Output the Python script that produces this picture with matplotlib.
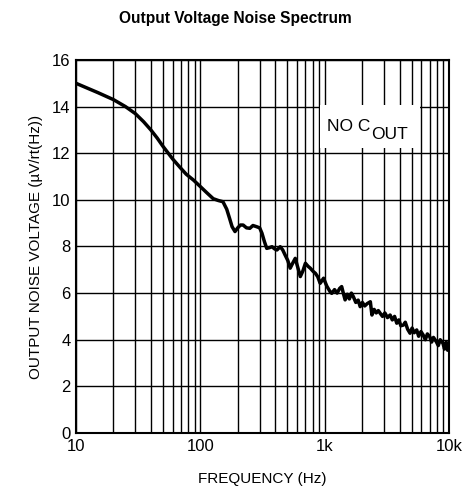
import matplotlib.pyplot as plt
from matplotlib.patches import Rectangle
from matplotlib.ticker import LogLocator, FixedLocator, NullFormatter

plt.rcParams['font.family'] = ['Liberation Sans', 'DejaVu Sans']

# frequency (Hz) and output noise (uV/rtHz)
freq = [10, 15, 20, 25, 30, 35, 40, 45, 50, 60, 69, 77, 88, 100, 113, 127,
        140, 152, 163, 172, 180, 190, 200, 210, 221, 235, 250, 265, 283, 300,
        313, 328, 342, 360, 377, 395, 413, 439, 460, 480, 505, 528, 555, 580,
        608, 637, 668, 700, 735, 766, 812, 842, 880, 920, 980, 1040, 1106,
        1140, 1200, 1260, 1320, 1370, 1420, 1460, 1520, 1580, 1640, 1700,
        1780, 1860, 1930, 2010, 2100, 2200, 2330, 2400, 2500, 2600, 2700,
        2800, 2920, 3050, 3200, 3360, 3500, 3650, 3800, 3950, 4100, 4300,
        4450, 4650, 4860, 5050, 5250, 5500, 5700, 5950, 6200, 6450, 6700,
        7000, 7250, 7500, 7900, 8200, 8500, 8940, 9200, 9500, 9750, 10000]
noise = [15.0, 14.6, 14.3, 14.0, 13.7, 13.35, 13.0, 12.65, 12.3, 11.75, 11.38,
         11.1, 10.85, 10.57, 10.3, 10.05, 9.97, 9.92, 9.6, 9.2, 8.85, 8.64,
         8.8, 8.92, 8.92, 8.8, 8.78, 8.9, 8.85, 8.8, 8.57, 8.2, 7.92, 7.95,
         7.99, 7.9, 7.85, 7.99, 7.85, 7.64, 7.4, 7.07, 7.3, 7.49, 7.1, 6.71,
         6.95, 7.28, 7.15, 7.07, 6.92, 6.85, 6.7, 6.42, 6.64, 6.3, 6.06, 5.99,
         6.15, 6.0, 6.2, 6.28, 5.95, 5.71, 5.95, 5.75, 6.0, 5.85, 5.6, 5.7,
         5.42, 5.6, 5.45, 5.55, 5.63, 5.06, 5.3, 5.15, 5.25, 5.13, 5.0, 5.15,
         4.95, 5.06, 4.85, 5.0, 4.71, 4.85, 4.6, 4.63, 4.75, 4.45, 4.28, 4.5,
         4.3, 4.42, 4.15, 4.35, 4.2, 4.0, 4.25, 4.13, 3.9, 4.1, 3.92, 3.75,
         4.0, 3.85, 3.6, 3.9, 3.55, 3.63]

fig = plt.figure(figsize=(4.68, 4.95), dpi=100)
ax = fig.add_axes([0.1624, 0.1253, 0.797, 0.7535])

ax.plot(freq, noise, color='black', lw=2.5, solid_joinstyle='round', zorder=3)

ax.set_xscale('log')
ax.set_xlim(10, 10000)
ax.set_ylim(0, 16)
ax.xaxis.set_major_locator(FixedLocator([10, 100, 1000, 10000]))
ax.xaxis.set_minor_locator(LogLocator(base=10, subs=range(2, 10)))
ax.xaxis.set_minor_formatter(NullFormatter())
ax.set_xticks([10, 100, 1000, 10000])
ax.set_xticklabels(['10', '100', '1k', '10k'])
ax.set_yticks(range(0, 17, 2))

ax.grid(which='both', axis='x', color='black', lw=1.0)
ax.grid(which='major', axis='y', color='black', lw=1.0)
ax.tick_params(which='both', length=0, labelsize=12, pad=4)
for s in ax.spines.values():
    s.set_linewidth(1.5)

ax.set_xlabel('FREQUENCY (Hz)', fontsize=11, labelpad=13)
ax.set_ylabel('OUTPUT NOISE VOLTAGE (\u00b5V/rt(Hz))', fontsize=11, labelpad=6)
fig.text(0.502, 0.963, 'Output Voltage Noise Spectrum', ha='center', va='center',
         fontsize=11.2, fontweight='bold')

# white label box hiding the grid
ax.add_patch(Rectangle((0.654, 0.764), 0.268, 0.115, transform=ax.transAxes,
                       facecolor='white', edgecolor='none', zorder=2.5))
ax.text(0.673, 0.8097, 'NO C', transform=ax.transAxes, fontsize=12.5,
        ha='left', va='baseline', zorder=4)
ax.text(0.79, 0.787, 'OUT', transform=ax.transAxes, fontsize=12.5,
        ha='left', va='baseline', zorder=4)

fig.savefig('out.png', dpi=100)
